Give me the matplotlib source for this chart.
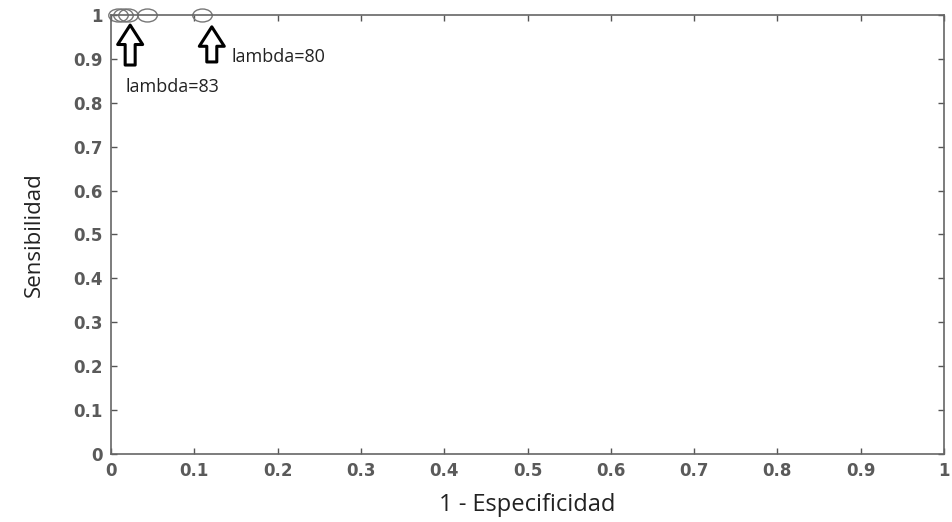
import matplotlib
matplotlib.use('Agg')
import matplotlib.pyplot as plt
from matplotlib.path import Path
from matplotlib.transforms import Affine2D

# ROC points (1 - especificidad, sensibilidad)
fpr = [0.008, 0.014, 0.020, 0.043, 0.109]
tpr = [1.0, 1.0, 1.0, 1.0, 1.0]

# annotations: label, arrow x, arrow tip / tail y, text position
labels = ['lambda=83', 'lambda=80']
arrow_x = [0.023, 0.121]
arrow_tip = [0.977, 0.973]
arrow_tail = [0.886, 0.893]
text_xy = [(0.017, 0.836), (0.145, 0.904)]

ticks = [0, 0.1, 0.2, 0.3, 0.4, 0.5, 0.6, 0.7, 0.8, 0.9, 1]
tick_labels = ['0', '0.1', '0.2', '0.3', '0.4', '0.5', '0.6', '0.7', '0.8', '0.9', '1']

fig = plt.figure(figsize=(9.52, 5.22), dpi=100)
ax = fig.add_axes([0.1166, 0.1303, 0.875, 0.841])

# slightly wide ellipse marker like the original
ellipse = Path.unit_circle().transformed(Affine2D().scale(1.5, 1.0))
ax.plot(fpr, tpr, linestyle='none', marker=ellipse, markersize=14,
        markerfacecolor='none', markeredgecolor='#777777', markeredgewidth=1.0,
        clip_on=False)

for lab, x, tip, tail, (tx, ty) in zip(labels, arrow_x, arrow_tip, arrow_tail, text_xy):
    ax.annotate('', xy=(x, tip), xytext=(x, tail),
                arrowprops=dict(arrowstyle='simple,head_width=1.8,head_length=1.4,tail_width=0.72',
                                fc='white', ec='black', lw=2.2,
                                shrinkA=0, shrinkB=0))
    ax.text(tx, ty, lab, fontsize=13, family='Open Sans', color='#222222',
            va='center', ha='left')

ax.set_xlim(0, 1)
ax.set_ylim(0, 1)
ax.set_xticks(ticks)
ax.set_xticklabels(tick_labels)
ax.set_yticks(ticks)
ax.set_yticklabels(tick_labels)
ax.tick_params(direction='in', length=4, width=1, color='#555555',
               top=True, right=True, labelsize=12, labelcolor='#5a5a5a', pad=6)
for lab in ax.get_xticklabels() + ax.get_yticklabels():
    lab.set_family('DejaVu Sans')
    lab.set_fontweight('bold')
for sp in ax.spines.values():
    sp.set_color('#666666')
    sp.set_linewidth(1.2)

ax.set_xlabel('1 - Especificidad', fontsize=17, family='Open Sans', color='#222222')
ax.set_ylabel('Sensibilidad', fontsize=16, family='Open Sans', color='#222222')
ax.xaxis.set_label_coords(0.5, -0.09)
ax.yaxis.set_label_coords(-0.08, 0.5)

fig.savefig('out.png', dpi=100)
